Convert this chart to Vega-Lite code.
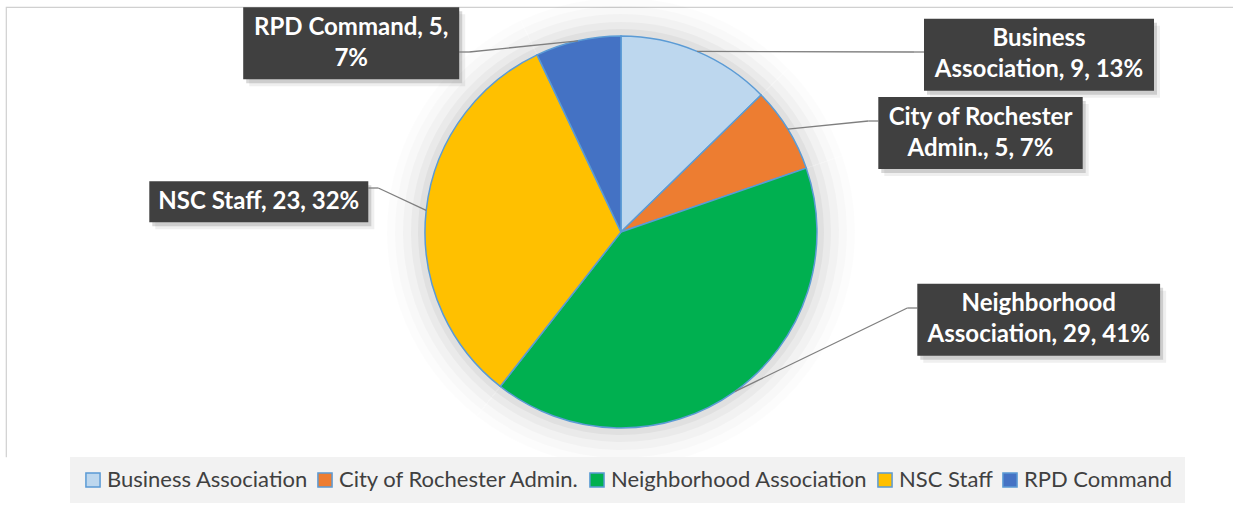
{
  "$schema": "https://vega.github.io/schema/vega-lite/v6.json",
  "width": 1230,
  "height": 450,
  "autosize": {"type": "none"},
  "padding": {"left": 6, "top": 7, "right": 0, "bottom": 56},
  "background": "white",
  "config": {"view": {"stroke": "#D0D0D0", "strokeWidth": 1.2, "strokeDash": [1680, 1230, 450, 0]}, "font": "Lato"},
  "data": {
    "values": [
      {"category": "Business Association", "count": 9, "share": "13%", "idx": 1, "label": "Business\nAssociation, 9, 13%"},
      {"category": "City of Rochester Admin.", "count": 5, "share": "7%", "idx": 2, "label": "City of Rochester\nAdmin., 5, 7%"},
      {"category": "Neighborhood Association", "count": 29, "share": "41%", "idx": 3, "label": "Neighborhood\nAssociation, 29, 41%"},
      {"category": "NSC Staff", "count": 23, "share": "32%", "idx": 4, "label": "NSC Staff, 23, 32%"},
      {"category": "RPD Command", "count": 5, "share": "7%", "idx": 5, "label": "RPD Command, 5,\n7%"}
    ]
  },
  "layer": [
    {
      "encoding": {
        "theta": {"field": "count", "type": "quantitative", "stack": true},
        "order": {"field": "idx", "type": "quantitative"}
      },
      "layer": [
        {"mark": {"type": "arc", "outerRadius": 234, "fill": "#000000", "opacity": 0.012}},
        {"mark": {"type": "arc", "outerRadius": 226, "fill": "#000000", "opacity": 0.016}},
        {"mark": {"type": "arc", "outerRadius": 218, "fill": "#000000", "opacity": 0.022}},
        {"mark": {"type": "arc", "outerRadius": 210, "fill": "#000000", "opacity": 0.03}},
        {"mark": {"type": "arc", "outerRadius": 203, "fill": "#000000", "opacity": 0.04}},
        {
          "mark": {"type": "arc", "outerRadius": 196, "stroke": "#5B9BD5", "strokeWidth": 1.5},
          "encoding": {
            "color": {
              "field": "category",
              "type": "nominal",
              "sort": ["Business Association", "City of Rochester Admin.", "Neighborhood Association", "NSC Staff", "RPD Command"],
              "scale": {
                "domain": ["Business Association", "City of Rochester Admin.", "Neighborhood Association", "NSC Staff", "RPD Command"],
                "range": ["#BDD7EE", "#ED7D31", "#00B050", "#FFC000", "#4472C4"]
              },
              "legend": {
                "orient": "none",
                "legendX": 64,
                "legendY": 450,
                "direction": "horizontal",
                "title": null,
                "fillColor": "#F2F2F2",
                "padding": 12,
                "symbolType": "square",
                "symbolSize": 200,
                "symbolStrokeColor": "#5B9BD5",
                "symbolStrokeWidth": 1.5,
                "labelFont": "Lato",
                "labelFontSize": 22,
                "labelColor": "#404040",
                "columnPadding": 6,
                "labelOffset": 3,
                "labelLimit": 0
              }
            }
          }
        }
      ]
    },
    {
      "transform": [
        {"joinaggregate": [{"op": "sum", "field": "count", "as": "total"}]},
        {"window": [{"op": "sum", "field": "count", "as": "cum"}], "sort": [{"field": "idx"}], "frame": [null, 0]},
        {"calculate": "2 * PI * (datum.cum - datum.count / 2) / datum.total", "as": "mid"},
        {"calculate": "196 * sin(datum.mid)", "as": "ax"},
        {"calculate": "-196 * cos(datum.mid)", "as": "ay"},
        {"calculate": "length(split(datum.label, '\\n'))", "as": "nl"},
        {"calculate": "datum.idx == 1 ? 418 : datum.idx == 2 ? 359.5 : datum.idx == 3 ? 417.7 : datum.idx == 4 ? -362.2 : -269.8", "as": "bx"},
        {"calculate": "datum.idx == 1 ? -177.3 : datum.idx == 2 ? -99 : datum.idx == 3 ? 87.7 : datum.idx == 4 ? -30.3 : -188.7", "as": "by"},
        {"calculate": "datum.idx == 1 ? 115 : datum.idx == 2 ? 102.2 : datum.idx == 3 ? 121.4 : datum.idx == 4 ? 109.5 : 108", "as": "hw"},
        {"calculate": "datum.idx == 1 ? -180 : datum.idx == 2 ? -111 : datum.idx == 3 ? 76 : datum.idx == 4 ? -44 : -180", "as": "ey"},
        {"calculate": "(datum.nl * 31 + 10) / 2", "as": "hh"},
        {"calculate": "datum.bx - datum.hw", "as": "x1"},
        {"calculate": "datum.bx + datum.hw", "as": "x2"},
        {"calculate": "datum.by - datum.hh", "as": "y1"},
        {"calculate": "datum.by + datum.hh", "as": "y2"},
        {"calculate": "datum.ax < datum.bx ? datum.x1 : datum.x2", "as": "ex"},
        {"calculate": "datum.ax < datum.bx ? datum.x1 - 10 : datum.x2 + 10", "as": "kx"},
        {"calculate": "datum.by - (datum.nl - 1) * 15.5", "as": "ty"},
        {"calculate": "datum.x1 + 3", "as": "s1x1"},
        {"calculate": "datum.x2 + 3", "as": "s1x2"},
        {"calculate": "datum.y1 + 4", "as": "s1y1"},
        {"calculate": "datum.y2 + 4", "as": "s1y2"},
        {"calculate": "datum.x1 + 6", "as": "s2x1"},
        {"calculate": "datum.x2 + 6", "as": "s2x2"},
        {"calculate": "datum.y1 + 7", "as": "s2y1"},
        {"calculate": "datum.y2 + 7", "as": "s2y2"}
      ],
      "layer": [
        {
          "mark": {"type": "rule", "color": "#7F7F7F", "strokeWidth": 1.3},
          "encoding": {
            "x": {"field": "ax", "type": "quantitative", "scale": {"domain": [-615, 615], "nice": false, "zero": false}, "axis": null},
            "y": {"field": "ay", "type": "quantitative", "scale": {"domain": [-225, 225], "nice": false, "zero": false, "reverse": true}, "axis": null},
            "x2": {"field": "kx"},
            "y2": {"field": "ey"}
          }
        },
        {
          "mark": {"type": "rule", "color": "#7F7F7F", "strokeWidth": 1.3},
          "encoding": {
            "x": {"field": "kx", "type": "quantitative", "scale": {"domain": [-615, 615], "nice": false, "zero": false}, "axis": null},
            "y": {"field": "ey", "type": "quantitative", "scale": {"domain": [-225, 225], "nice": false, "zero": false, "reverse": true}, "axis": null},
            "x2": {"field": "ex"},
            "y2": {"field": "ey"}
          }
        },
        {
          "mark": {"type": "rect", "fill": "#7F7F7F", "opacity": 0.12},
          "encoding": {
            "x": {"field": "s2x1", "type": "quantitative", "scale": {"domain": [-615, 615], "nice": false, "zero": false}, "axis": null},
            "x2": {"field": "s2x2"},
            "y": {"field": "s2y1", "type": "quantitative", "scale": {"domain": [-225, 225], "nice": false, "zero": false, "reverse": true}, "axis": null},
            "y2": {"field": "s2y2"}
          }
        },
        {
          "mark": {"type": "rect", "fill": "#7F7F7F", "opacity": 0.3},
          "encoding": {
            "x": {"field": "s1x1", "type": "quantitative", "scale": {"domain": [-615, 615], "nice": false, "zero": false}, "axis": null},
            "x2": {"field": "s1x2"},
            "y": {"field": "s1y1", "type": "quantitative", "scale": {"domain": [-225, 225], "nice": false, "zero": false, "reverse": true}, "axis": null},
            "y2": {"field": "s1y2"}
          }
        },
        {
          "mark": {"type": "rect", "fill": "#404040"},
          "encoding": {
            "x": {"field": "x1", "type": "quantitative", "scale": {"domain": [-615, 615], "nice": false, "zero": false}, "axis": null},
            "x2": {"field": "x2"},
            "y": {"field": "y1", "type": "quantitative", "scale": {"domain": [-225, 225], "nice": false, "zero": false, "reverse": true}, "axis": null},
            "y2": {"field": "y2"}
          }
        },
        {
          "mark": {
            "type": "text", "align": "center", "baseline": "middle",
            "font": "Lato", "fontSize": 24, "fontWeight": "bold", "lineHeight": 31, "lineBreak": "\n",
            "fill": "#FFFFFF"
          },
          "encoding": {
            "x": {"field": "bx", "type": "quantitative", "scale": {"domain": [-615, 615], "nice": false, "zero": false}, "axis": null},
            "y": {"field": "ty", "type": "quantitative", "scale": {"domain": [-225, 225], "nice": false, "zero": false, "reverse": true}, "axis": null},
            "text": {"field": "label", "type": "nominal"}
          }
        }
      ]
    }
  ]
}
